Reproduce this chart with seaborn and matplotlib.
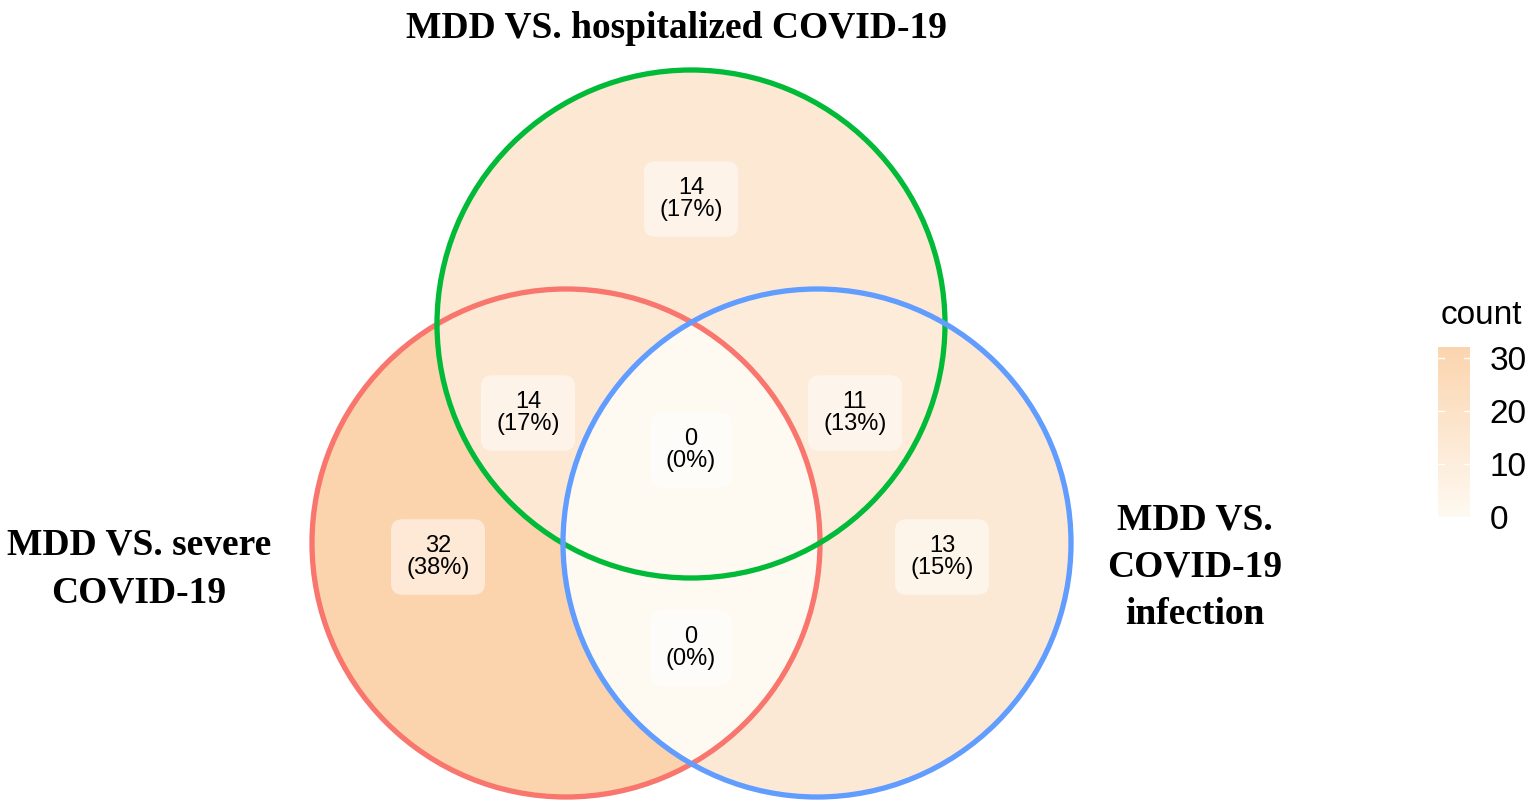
import numpy as np
import seaborn as sns
import matplotlib.pyplot as plt

# set names and region counts (ggVennDiagram style, 3 sets)
set_names = ["MDD VS. severe\nCOVID-19", "MDD VS. hospitalized COVID-19", "MDD VS.\nCOVID-19\ninfection"]
set_colors = ["#F8766D", "#00BA38", "#619CFF"]
# regions keyed by membership (severe, hospitalized, infection)
region_keys = [(1, 0, 0), (0, 1, 0), (0, 0, 1), (1, 1, 0), (1, 0, 1), (0, 1, 1), (1, 1, 1)]
region_counts = [32, 14, 13, 14, 0, 11, 0]
region_pcts = ["38%", "17%", "15%", "17%", "0%", "13%", "0%"]

# layout (pixel space of the figure)
centers = [(566, 543), (691, 324), (817, 543)]
radius = 254
label_pos = [(438, 557), (691, 199), (942, 557), (528, 413), (691, 648), (855, 413), (691, 450)]
name_pos = [(139, 569), (677, 28), (1195, 567)]

sns.set_theme(style="white")
plt.rcParams["font.family"] = ["Liberation Sans", "DejaVu Sans"]
plt.rcParams["text.color"] = "black"
plt.rcParams["ytick.color"] = "black"

W, H = 1535, 808
fig = plt.figure(figsize=(W / 100, H / 100), dpi=100)
ax = fig.add_axes([0, 0, 1, 1])
ax.set_xlim(0, W)
ax.set_ylim(H, 0)
ax.axis("off")

cmap = sns.blend_palette(["#FEF9F1", "#FBD4AE"], as_cmap=True)

# fill each region by its count
xx, yy = np.meshgrid(np.arange(0, W, 1.0), np.arange(0, H, 1.0))
inside = [((xx - cx) ** 2 + (yy - cy) ** 2) <= radius ** 2 for cx, cy in centers]
grid = np.full(xx.shape, np.nan)
for key, cnt in zip(region_keys, region_counts):
    m = np.ones(xx.shape, bool)
    for flag, ins in zip(key, inside):
        m &= ins if flag else ~ins
    grid[m] = cnt
img = ax.imshow(np.ma.masked_invalid(grid), cmap=cmap, vmin=0, vmax=32,
                extent=(0, W, H, 0), origin="upper", interpolation="nearest")

for (cx, cy), col in zip(centers, set_colors):
    ax.add_patch(plt.Circle((cx, cy), radius, fill=False, ec=col, lw=3.8))

for (x, y), cnt, pct in zip(label_pos, region_counts, region_pcts):
    ax.text(x, y, f"{cnt}\n({pct})", ha="center", va="center", fontsize=17,
            linespacing=1.05, color="black",
            bbox=dict(boxstyle="round,pad=0.65,rounding_size=0.5", fc="white",
                      ec="none", alpha=0.5))

for (x, y), name in zip(name_pos, set_names):
    ax.text(x, y, name, ha="center", va="center", fontsize=27, fontweight="bold",
            color="black", family=["Liberation Serif", "DejaVu Serif"], linespacing=1.45)

# colour bar legend
cax = fig.add_axes([1438 / W, 1 - 517 / H, 32 / W, 170 / H])
cb = fig.colorbar(img, cax=cax)
cb.outline.set_visible(False)
cb.set_ticks([0, 10, 20, 30])
cax.tick_params(axis="y", length=0, labelsize=24, pad=14, labelcolor="black")
for t in [10, 20, 30]:
    cax.plot([0, 0.2], [t, t], color="white", lw=1, transform=cax.get_yaxis_transform())
    cax.plot([0.8, 1], [t, t], color="white", lw=1, transform=cax.get_yaxis_transform())
fig.text(1481 / W, 1 - 315 / H, "count", ha="center", va="center", fontsize=24)

fig.savefig("out.png", dpi=100)
